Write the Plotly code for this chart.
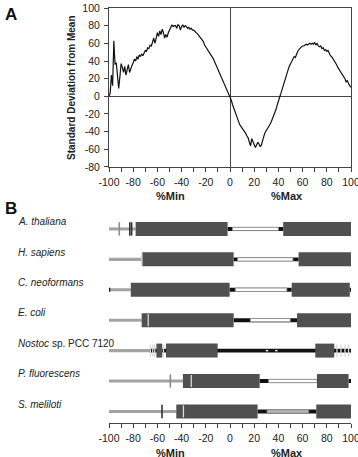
import plotly.graph_objects as go

# ---------------- Panel A data ----------------
pos_pct = list(range(-100, 101))
sd_from_mean = [
    0, 4, 24, 12, 63, 36, 38, 20, 9, 22,          # -100..-91
    37, 33, 27, 34, 24, 30, 36, 27, 32, 35,       # -90..-81
    38, 42, 40, 45, 42, 47, 45, 48, 46, 50,       # -80..-71
    52, 51, 55, 54, 58, 57, 62, 66, 60, 65,       # -70..-61
    72, 68, 74, 70, 76, 72, 66, 70, 67, 72,       # -60..-51
    76, 78, 81, 79, 80, 80, 77, 81, 80, 75,       # -50..-41
    79, 81, 78, 80, 79, 77, 78, 76, 77, 75,       # -40..-31
    75, 73, 72, 71, 69, 68, 66, 64, 62, 58,       # -30..-21
    56, 53, 52, 50, 47, 46, 43, 40, 37, 34,       # -20..-11
    31, 28, 25, 22, 19, 16, 13, 10, 7, 4,         # -10..-1
    1,                                            # 0
    -4, -9, -13, -17, -21, -25, -28, -32, -34, -36,   # 1..10
    -37, -40, -42, -45, -47, -52, -56, -48, -52, -54, # 11..20
    -58, -55, -52, -54, -57, -55, -48, -45, -41, -39, # 21..30
    -37, -35, -32, -29, -26, -23, -19, -15, -10, -4,  # 31..40
    -1, 3, 8, 13, 18, 22, 26, 30, 34, 37,             # 41..50
    40, 42, 45, 44, 48, 51, 53, 55, 56, 57,           # 51..60
    57, 58, 59, 58, 59, 60, 59, 60, 59, 61,           # 61..70
    58, 60, 57, 56, 57, 54, 55, 52, 53, 51,           # 71..80
    52, 48, 46, 45, 43, 41, 38, 36, 33, 31,           # 81..90
    29, 27, 24, 22, 20, 16, 18, 14, 12, 10,           # 91..100
]
x_tick_vals = [-100, -80, -60, -40, -20, 0, 20, 40, 60, 80, 100]
x_tick_text = ["-100", "-80", "-60", "-40", "-20", "0", "20", "40", "60", "80", "100"]
y_tick_vals = [-80, -60, -40, -20, 0, 20, 40, 60, 80, 100]
y_tick_text = ["-80", "-60", "-40", "-20", "0", "20", "40", "60", "80", "100"]

# ---------------- Panel B data ----------------
species = ["<i>A. thaliana</i>", "<i>H. sapiens</i>", "<i>C. neoformans</i>",
           "<i>E. coli</i>", "<i>Nostoc</i> sp. PCC 7120",
           "<i>P. fluorescens</i>", "<i>S. meliloti</i>"]
utr_end = [-78, -73, -82, -73, -66.4, -38.9, -44.4]
boxes = [
    [(-78, -2), (44, 100)],
    [(-72.5, 3), (56.7, 100)],
    [(-82, -0.3), (51, 99)],
    [(-73, 3), (55.4, 100)],
    [(-60.8, -56), (-52.9, -10.2), (70.5, 86.2)],
    [(-38.9, 24.5), (71.9, 98)],
    [(-44.4, 22.8), (71.3, 100)],
]
links = [
    [(-2, 44)],
    [(3, 56.7)],
    [(-100, -99), (-0.3, 51), (99, 100)],
    [(3, 55.4)],
    [(-66.4, 100)],
    [(24.5, 71.9), (98, 100)],
    [(22.8, 71.3)],
]
hollow = [
    [(2, 40)],
    [(6.3, 52)],
    [(4.4, 47)],
    [(16.8, 49.8)],
    [],
    [(31.9, 71.9)],
    [(30.6, 65)],
]
gray_ticks = [[-91.5], [], [], [], [], [-49.3], []]
dark_ticks = [[-82.8, -81.3], [], [], [], [], [], [-56.2]]
light_ticks = [[], [-73], [], [-67.6],
               [-65.8, -63.9, -62.2, -55, 88.4, 91.7, 95, 98],
               [-32], [-38.5]]
white_dashes = [[], [], [], [], [30.6, 38.3], [], []]

FONT = "Liberation Sans, Arial, sans-serif"
BOX = "#505050"
UTR = "#a3a3a3"
LINK = "#111111"

fig = go.Figure()
fig.add_trace(go.Scatter(x=pos_pct, y=sd_from_mean, mode="lines",
                         line=dict(color="#111", width=1.2),
                         xaxis="x", yaxis="y", showlegend=False,
                         hoverinfo="skip"))
# invisible trace to activate the second axes
fig.add_trace(go.Scatter(x=[-100, 100], y=[0, 0], mode="markers",
                         marker=dict(opacity=0), xaxis="x2", yaxis="y2",
                         showlegend=False, hoverinfo="skip"))

shapes = []
def rect(x0, x1, yc, h, fill, line_color=None, lw=0):
    shapes.append(dict(type="rect", xref="x2", yref="y2", x0=x0, x1=x1,
                       y0=yc - h, y1=yc + h, fillcolor=fill,
                       line=dict(color=line_color or fill, width=lw), layer="above"))

def vline(x, yc, h, color, w):
    shapes.append(dict(type="line", xref="x2", yref="y2", x0=x, x1=x,
                       y0=yc - h, y1=yc + h, line=dict(color=color, width=w),
                       layer="above"))

for i in range(len(species)):
    rect(-100, utr_end[i], i, 0.05, UTR)
    for a, b in links[i]:
        rect(a, b, i, 0.065, LINK)
    for a, b in hollow[i]:
        fill = "#b5b5b5" if i == 6 else "#ffffff"
        rect(a, b, i, 0.055, fill, "#8a8a8a", 0.8)
    for a, b in boxes[i]:
        rect(a, b, i, 0.23, BOX)
    for x in gray_ticks[i]:
        vline(x, i, 0.22, "#8c8c8c", 1.6)
    for x in dark_ticks[i]:
        vline(x, i, 0.22, "#333333", 1.6)
    for x in light_ticks[i]:
        vline(x, i, 0.2, "#d8d8d8", 1.3)
    for x in white_dashes[i]:
        shapes.append(dict(type="line", xref="x2", yref="y2", x0=x - 1, x1=x + 1,
                           y0=i, y1=i, line=dict(color="#eeeeee", width=1.5),
                           layer="above"))

annotations = [
    dict(text="<b>A</b>", x=-0.44, y=0.9855, xref="paper", yref="paper",
         xanchor="left", yanchor="middle", showarrow=False,
         font=dict(size=17, family=FONT, color="#111")),
    dict(text="<b>B</b>", x=-0.44, y=0.5157, xref="paper", yref="paper",
         xanchor="left", yanchor="middle", showarrow=False,
         font=dict(size=17, family=FONT, color="#111")),
    dict(text="<b>Standard Deviation from Mean</b>", x=-0.155, y=0.8085,
         xref="paper", yref="paper", textangle=-90, showarrow=False,
         xanchor="center", yanchor="middle",
         font=dict(size=10, family=FONT, color="#222")),
    dict(text="<b>%Min</b>", x=-49, y=0.546, xref="x", yref="paper",
         showarrow=False, xanchor="center", yanchor="middle",
         font=dict(size=11, family=FONT, color="#222")),
    dict(text="<b>%Max</b>", x=47.5, y=0.546, xref="x", yref="paper",
         showarrow=False, xanchor="center", yanchor="middle",
         font=dict(size=11, family=FONT, color="#222")),
    dict(text="<b>%Min</b>", x=-49, y=-0.072, xref="x2", yref="paper",
         showarrow=False, xanchor="center", yanchor="middle",
         font=dict(size=11, family=FONT, color="#222")),
    dict(text="<b>%Max</b>", x=47.5, y=-0.072, xref="x2", yref="paper",
         showarrow=False, xanchor="center", yanchor="middle",
         font=dict(size=11, family=FONT, color="#222")),
]
for i, s in enumerate(species):
    annotations.append(dict(text=s, x=-0.3843, y=i - 0.24, xref="paper", yref="y2",
                            xanchor="left", yanchor="middle", showarrow=False,
                            font=dict(size=10, family=FONT, color="#222")))

axis_common = dict(range=[-100, 100], tickmode="array", tickvals=x_tick_vals,
                   ticktext=x_tick_text, ticks="outside",
                   ticklen=4, tickwidth=1, tickcolor="#444",
                   minor=dict(dtick=10, tick0=-100, ticks="outside", ticklen=4,
                              tickcolor="#444", tickwidth=1),
                   showgrid=False, tickfont=dict(size=10.5, family=FONT, color="#222"),
                   showline=True, linecolor="#444", linewidth=1, automargin=False,
                   ticklabelstandoff=1, ticklabeloverflow="allow", fixedrange=True)

fig.update_layout(
    width=358, height=457,
    margin=dict(l=109, r=7, t=8, b=34, autoexpand=False),
    paper_bgcolor="white", plot_bgcolor="white",
    xaxis=dict(**axis_common, anchor="y", mirror=True, zeroline=True,
               zerolinecolor="#444", zerolinewidth=1),
    yaxis=dict(domain=[0.6169, 1], range=[-80, 100], tickmode="array",
               tickvals=y_tick_vals, ticktext=y_tick_text, ticks="outside",
               ticklen=4, tickcolor="#444", showgrid=False, showline=True,
               linecolor="#444", mirror=True, zeroline=True, zerolinecolor="#444",
               zerolinewidth=1, tickfont=dict(size=10.5, family=FONT, color="#222"),
               automargin=False, ticklabelstandoff=2, ticklabeloverflow="allow",
               fixedrange=True),
    xaxis2=dict(**axis_common, anchor="y2", zeroline=False),
    yaxis2=dict(domain=[0, 0.494], range=[6.38, -0.36], visible=False,
                fixedrange=True),
    shapes=shapes, annotations=annotations, showlegend=False,
)

fig.write_html("out.html", config={"displayModeBar": False})
